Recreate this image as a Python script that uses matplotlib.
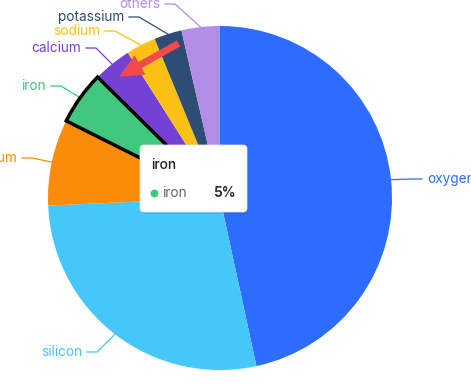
import numpy as np
import matplotlib.pyplot as plt
from matplotlib.patches import FancyBboxPatch, FancyArrowPatch

plt.rcParams['font.family'] = ['Inter', 'DejaVu Sans']

# data
elements = ['oxygen', 'silicon', 'aluminum', 'iron', 'calcium', 'sodium', 'potassium', 'others']
shares = [46.6, 27.7, 8.1, 5.0, 3.6, 2.8, 2.6, 3.6]
colors = ['#2E6CFF', '#45C7FA', '#FA8C0A', '#40C87E', '#7442D3', '#FAC013', '#2E4D74', '#B28DE8']
highlight = 'iron'

W, H = 471, 384
# label anchor (text edge x, y) in pixels from top-left, after overlap shifting
label_pos = {
    'oxygen': (427, 179), 'silicon': (82, 352), 'aluminum': (17, 158), 'iron': (46, 86),
    'calcium': (81, 48), 'sodium': (100, 31), 'potassium': (124, 17), 'others': (160, 4),
}

fig = plt.figure(figsize=(W / 100, H / 100), dpi=100)
ax = fig.add_axes([0, 0, 1, 1])

cx, cy, R = 220, 186, 172
explode = [6 / R if e == highlight else 0 for e in elements]
wedges, _ = ax.pie(shares, colors=colors, startangle=90, counterclock=False,
                   center=(cx, cy), radius=R, explode=explode,
                   wedgeprops=dict(linewidth=0))
ax.set_xlim(0, W)
ax.set_ylim(0, H)
ax.set_aspect('equal')
ax.axis('off')

for w, e in zip(wedges, elements):
    if e == highlight:
        w.set_edgecolor('black')
        w.set_linewidth(2.5)
        w.set_zorder(3)

# labels with leader lines
for w, e, c in zip(wedges, elements, colors):
    mid = np.deg2rad((w.theta1 + w.theta2) / 2)
    ox, oy = w.center
    x0, y0 = ox + R * np.cos(mid), oy + R * np.sin(mid)
    tx, ty = label_pos[e]
    ty = H - ty
    side = 1 if np.cos(mid) >= 0 else -1
    x2 = tx - side * 5
    x1 = x2 - side * 10
    ax.plot([x0, x1, x2], [y0, ty, ty], color=c, lw=0.9, zorder=2)
    ax.text(tx, ty, e, color=c, fontsize=9.8,
            ha='left' if side > 0 else 'right', va='center')

# red arrow annotation
ax.add_patch(FancyArrowPatch((181, H - 42), (117, H - 78),
                             arrowstyle='simple,head_width=16,head_length=17,tail_width=5',
                             color='#F24A4A', lw=0, zorder=4))

# tooltip
bx, by, bw, bh = 140, H - 212, 107, 67
ax.add_patch(FancyBboxPatch((bx + 1, by - 2), bw, bh, boxstyle='round,pad=0,rounding_size=4',
                            fc='#000000', alpha=0.08, lw=0, zorder=5))
ax.add_patch(FancyBboxPatch((bx, by), bw, bh, boxstyle='round,pad=0,rounding_size=4',
                            fc='white', ec='#e6e6e6', lw=0.6, zorder=6))
ax.text(bx + 11, H - 165, 'iron', fontsize=9.8, fontweight='medium', color='#1d1d1d',
        va='center', zorder=7)
ax.scatter([bx + 14], [H - 193], s=32, color=colors[3], zorder=7, lw=0)
ax.text(bx + 22, H - 193, 'iron', fontsize=9.8, color='#666666', va='center', zorder=7)
ax.text(bx + 96, H - 193, '5%', fontsize=9.8, fontweight='bold', color='#333333',
        va='center', ha='right', zorder=7)

fig.savefig('out.png', dpi=100)
